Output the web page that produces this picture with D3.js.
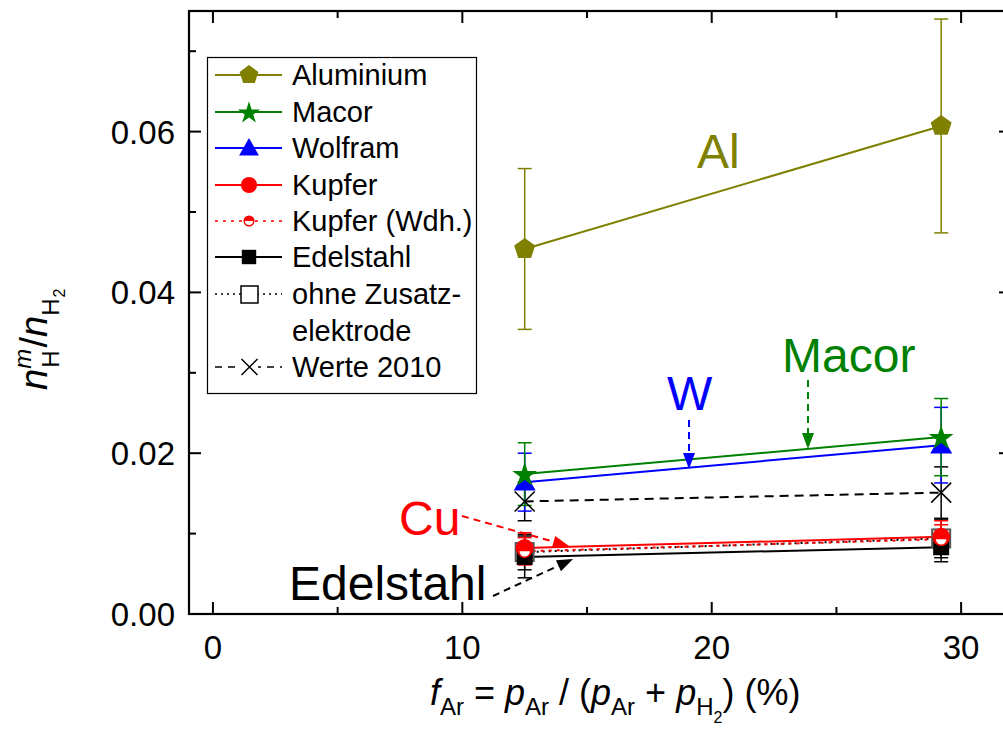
<!DOCTYPE html>
<html><head><meta charset="utf-8">
<script src="https://cdn.jsdelivr.net/npm/d3@7"></script>
<style>body{margin:0;background:#fff}svg{display:block;font-family:"Liberation Sans",Arial,sans-serif}</style>
</head><body><svg id="c" width="1003" height="733"></svg>
<script>
const xVals = [12.5, 29.2];
const aluminium = [0.0454, 0.0607];
const aluminiumErr = [0.0100, 0.0133];
const macor = [0.0174, 0.0220];
const macorErr = [0.0039, 0.0048];
const wolfram = [0.0164, 0.0210];
const wolframErr = [0.0036, 0.0047];
const kupfer = [0.0082, 0.0096];
const kupferErr = [0.0019, 0.0020];
const kupferWdh = [0.0078, 0.0093];
const kupferWdhErr = [0.0017, 0.0018];
const edelstahl = [0.0071, 0.0083];
const edelstahlErr = [0.0026, 0.0018];
const ohne = [0.0077, 0.0094];
const ohneErr = [0.0022, 0.0024];
const werte2010 = [0.0140, 0.0151];
const werte2010Err = [0.0024, 0.0032];
const xTicks = [0, 10, 20, 30];
const yTicks = [0.00, 0.02, 0.04, 0.06];
const legendLabels = ["Aluminium","Macor","Wolfram","Kupfer","Kupfer (Wdh.)","Edelstahl","ohne Zusatz-","Werte 2010"];

const svg = d3.select("#c");
const L=189, R=1011, T=11, B=614;
const x = d3.scaleLinear().domain([-0.96, 32]).range([L, R]);
const y = d3.scaleLinear().domain([0, 0.075]).range([B, T]);

const series = [
  {name:"Werte 2010", v:werte2010, e:werte2010Err, color:"#000", dash:"9,6", marker:"x"},
  {name:"Aluminium", v:aluminium, e:aluminiumErr, color:"#808000", dash:null, marker:"pent"},
  {name:"Wolfram", v:wolfram, e:wolframErr, color:"#0000ff", dash:null, marker:"tri"},
  {name:"Macor", v:macor, e:macorErr, color:"#008000", dash:null, marker:"star"},
  {name:"ohne", v:ohne, e:ohneErr, color:"#000", dash:"2,4", marker:"osq"},
  {name:"Edelstahl", v:edelstahl, e:edelstahlErr, color:"#000", dash:null, marker:"sq"},
  {name:"Kupfer", v:kupfer, e:kupferErr, color:"#ff0000", dash:null, marker:"circ"},
  {name:"Kupfer (Wdh.)", v:kupferWdh, e:kupferWdhErr, color:"#ff0000", dash:"3,5", marker:"half"},
];

function drawMarker(g, type, cx, cy, color, s){
  s = s||1;
  if(type==="pent"){
    const r=11*s; const pts=d3.range(5).map(i=>{const a=-Math.PI/2+i*2*Math.PI/5;return [cx+r*Math.cos(a), cy+r*Math.sin(a)];});
    g.append("polygon").attr("points",pts.map(p=>p.join(",")).join(" ")).attr("fill",color);
  } else if(type==="star"){
    g.append("path").attr("d",d3.symbol().type(d3.symbolStar).size(190*s*s)()).attr("transform",`translate(${cx},${cy+1})`).attr("fill",color);
  } else if(type==="tri"){
    const r=11*s; g.append("polygon").attr("points",`${cx},${cy-r} ${cx+r},${cy+r*0.75} ${cx-r},${cy+r*0.75}`).attr("fill",color);
  } else if(type==="circ"){
    g.append("circle").attr("cx",cx).attr("cy",cy).attr("r",9*s).attr("fill",color);
  } else if(type==="half"){
    const r=6*s;
    g.append("circle").attr("cx",cx).attr("cy",cy).attr("r",r).attr("fill","#fff").attr("stroke",color).attr("stroke-width",1.5);
    g.append("path").attr("d",`M${cx-r},${cy} A${r},${r} 0 0 1 ${cx+r},${cy} Z`).attr("fill",color);
  } else if(type==="sq"){
    const h=8*s; g.append("rect").attr("x",cx-h).attr("y",cy-h).attr("width",2*h).attr("height",2*h).attr("fill",color);
  } else if(type==="osq"){
    const h=9*s; g.append("rect").attr("x",cx-h).attr("y",cy-h).attr("width",2*h).attr("height",2*h).attr("fill","none").attr("stroke","#555").attr("stroke-width",2);
  } else if(type==="x"){
    const h=10*s; g.append("path").attr("d",`M${cx-h},${cy-h}L${cx+h},${cy+h}M${cx-h},${cy+h}L${cx+h},${cy-h}`).attr("stroke",color).attr("stroke-width",1.5);
  }
}

const plot = svg.append("g");
series.forEach(s=>{
  s.v.forEach((v,i)=>{
    const cx=x(xVals[i]);
    const eg=plot.append("g").attr("stroke",s.color).attr("stroke-width",1.5);
    eg.append("line").attr("x1",cx).attr("x2",cx).attr("y1",y(v-s.e[i])).attr("y2",y(v+s.e[i]));
    [v-s.e[i], v+s.e[i]].forEach(w=>eg.append("line").attr("x1",cx-7).attr("x2",cx+7).attr("y1",y(w)).attr("y2",y(w)));
  });
});
const line = d3.line().x((d,i)=>x(xVals[i])).y(d=>y(d));
series.forEach(s=>{
  plot.append("path").datum(s.v).attr("d",line).attr("fill","none").attr("stroke",s.color)
    .attr("stroke-width",2).attr("stroke-dasharray",s.dash);
});
series.forEach(s=>{
  s.v.forEach((v,i)=>drawMarker(plot, s.marker, x(xVals[i]), y(v), s.color, 1));
});

const ax = svg.append("g").attr("stroke","#000");
ax.append("rect").attr("x",L).attr("y",T).attr("width",R-L).attr("height",B-T).attr("fill","none").attr("stroke-width",2.2);
const xMinor = [5,15,25];
const yMinor = [0.01,0.03,0.05,0.07];
xTicks.forEach(t=>{ ax.append("line").attr("x1",x(t)).attr("x2",x(t)).attr("y1",B).attr("y2",B-12).attr("stroke-width",2);
  ax.append("line").attr("x1",x(t)).attr("x2",x(t)).attr("y1",T).attr("y2",T+12).attr("stroke-width",2);});
xMinor.forEach(t=>{ ax.append("line").attr("x1",x(t)).attr("x2",x(t)).attr("y1",B).attr("y2",B-7).attr("stroke-width",2);
  ax.append("line").attr("x1",x(t)).attr("x2",x(t)).attr("y1",T).attr("y2",T+7).attr("stroke-width",2);});
yTicks.forEach(t=>{ ax.append("line").attr("x1",L).attr("x2",L+12).attr("y1",y(t)).attr("y2",y(t)).attr("stroke-width",2);
  ax.append("line").attr("x1",R).attr("x2",R-12).attr("y1",y(t)).attr("y2",y(t)).attr("stroke-width",2);});
yMinor.forEach(t=>{ ax.append("line").attr("x1",L).attr("x2",L+7).attr("y1",y(t)).attr("y2",y(t)).attr("stroke-width",2);
  ax.append("line").attr("x1",R).attr("x2",R-7).attr("y1",y(t)).attr("y2",y(t)).attr("stroke-width",2);});
xTicks.forEach(t=>svg.append("text").attr("x",x(t)).attr("y",B+45).attr("text-anchor","middle").attr("font-size",33).text(t));
yTicks.forEach(t=>svg.append("text").attr("x",L-14).attr("y",y(t)+12).attr("text-anchor","end").attr("font-size",33).text(d3.format(".2f")(t)));

const xt = svg.append("text").attr("x",430).attr("y",705).attr("font-size",36);
xt.append("tspan").attr("font-style","italic").text("f");
xt.append("tspan").attr("font-size",24).attr("dy",10).text("Ar");
xt.append("tspan").attr("dy",-10).text(" = ");
xt.append("tspan").attr("font-style","italic").text("p");
xt.append("tspan").attr("font-size",24).attr("dy",10).text("Ar");
xt.append("tspan").attr("dy",-10).text(" / (");
xt.append("tspan").attr("font-style","italic").text("p");
xt.append("tspan").attr("font-size",24).attr("dy",10).text("Ar");
xt.append("tspan").attr("dy",-10).text(" + ");
xt.append("tspan").attr("font-style","italic").text("p");
xt.append("tspan").attr("font-size",24).attr("dy",10).text("H");
xt.append("tspan").attr("font-size",16).attr("dy",8).text("2");
xt.append("tspan").attr("dy",-18).text(") (%)");

const yt = svg.append("text").attr("transform","translate(47,390) rotate(-90)").attr("font-size",38);
yt.append("tspan").attr("font-style","italic").text("n");
yt.append("tspan").attr("font-style","italic").attr("font-size",24).attr("dy",-16).text("m");
yt.append("tspan").attr("font-size",24).attr("dx",-19).attr("dy",28).text("H");
yt.append("tspan").attr("dy",-12).attr("dx",3).text("/");
yt.append("tspan").attr("font-style","italic").text("n");
yt.append("tspan").attr("font-size",24).attr("dy",12).text("H");
yt.append("tspan").attr("font-size",16).attr("dy",6).attr("dx",1).text("2");

const lg = svg.append("g");
lg.append("rect").attr("x",207.5).attr("y",57.5).attr("width",269).attr("height",336).attr("fill","#fff").attr("stroke","#000").attr("stroke-width",1.2);
const legendSeries = [
  {color:"#808000",dash:null,marker:"pent"},
  {color:"#008000",dash:null,marker:"star"},
  {color:"#0000ff",dash:null,marker:"tri"},
  {color:"#ff0000",dash:null,marker:"circ"},
  {color:"#ff0000",dash:"3,5",marker:"half"},
  {color:"#000",dash:null,marker:"sq"},
  {color:"#000",dash:"2,4",marker:"osq"},
  {color:"#000",dash:"7,6",marker:"x"},
];
const rowY = [75,112,148,185,221,257,294,367];
legendSeries.forEach((s,i)=>{
  const cy=rowY[i];
  lg.append("line").attr("x1",215).attr("x2",282).attr("y1",cy).attr("y2",cy).attr("stroke",s.color).attr("stroke-width",s.dash?1.5:2).attr("stroke-dasharray",s.dash);
  if(s.marker==="osq"){lg.append("rect").attr("x",241).attr("y",cy-8).attr("width",17).attr("height",17).attr("fill","#fff").attr("stroke","#000").attr("stroke-width",1.5);}
  else if(s.marker==="x"){ lg.append("rect").attr("x",241).attr("y",cy-8).attr("width",17).attr("height",17).attr("fill","#fff"); drawMarker(lg,"x",249.5,cy,s.color,0.8);}
  else drawMarker(lg,s.marker,249,cy,s.color,s.marker==="half"?0.8:0.9);
  lg.append("text").attr("x",292).attr("y",cy+10).attr("font-size",29).text(legendLabels[i]);
});
lg.append("text").attr("x",292).attr("y",341).attr("font-size",29).text("elektrode");

function arrow(x1,y1,x2,y2,color){
  const a=Math.atan2(y2-y1,x2-x1), hl=16, hw=6;
  const bx=x2-hl*Math.cos(a), by=y2-hl*Math.sin(a);
  svg.append("line").attr("x1",x1).attr("y1",y1).attr("x2",bx).attr("y2",by).attr("stroke",color).attr("stroke-width",2).attr("stroke-dasharray","7,5");
  const px=-Math.sin(a)*hw, py=Math.cos(a)*hw;
  svg.append("polygon").attr("points",`${x2},${y2} ${bx+px},${by+py} ${bx-px},${by-py}`).attr("fill",color);
}
const ann = [
  {t:"Al",x:697,y:168,c:"#808000"},
  {t:"Macor",x:782,y:372,c:"#008000"},
  {t:"W",x:667,y:410,c:"#0000ff"},
  {t:"Cu",x:399,y:535,c:"#ff0000"},
  {t:"Edelstahl",x:289,y:600,c:"#000"},
];
ann.forEach(a=>svg.append("text").attr("x",a.x).attr("y",a.y).attr("fill",a.c).attr("font-size",48).text(a.t));
arrow(689,420,689,469,"#0000ff");
arrow(808,380,808,449,"#008000");
arrow(462,516,569,546,"#ff0000");
arrow(493,596,573,559,"#000");
</script></body></html>
